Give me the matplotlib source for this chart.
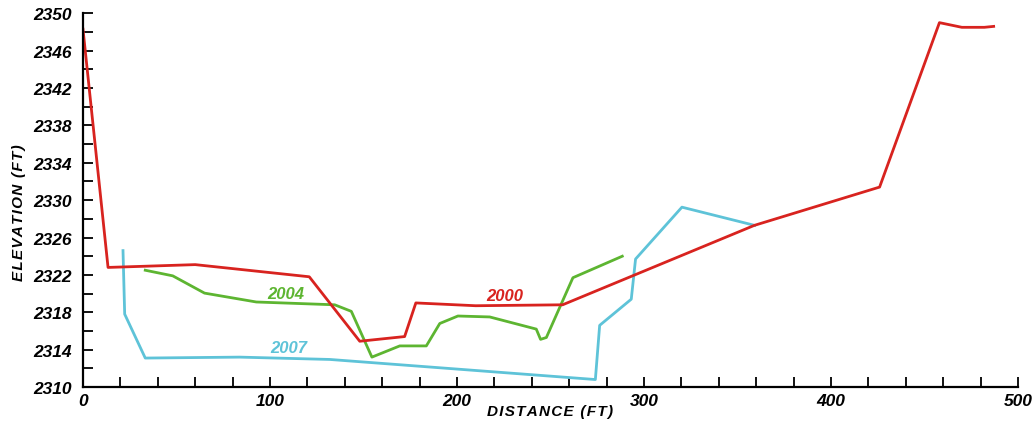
import numpy as np
import matplotlib
matplotlib.use('Agg')
import matplotlib.pyplot as plt

# cross-section survey data (distance ft, elevation ft)
dist_2000 = [0, 13.4, 60, 121, 148, 172, 178, 210, 256.5, 359, 426, 458, 470, 482, 487]
elev_2000 = [2348.3, 2322.8, 2323.1, 2321.8, 2314.9, 2315.4, 2319.0, 2318.7, 2318.8,
             2327.3, 2331.4, 2349.0, 2348.5, 2348.5, 2348.6]

dist_2004 = [33.3, 48, 65, 92.7, 134.6, 143.5, 154.5, 169.4, 183.6, 190.8, 200.5,
             217.5, 242.4, 244.7, 247.8, 262, 288.4]
elev_2004 = [2322.5, 2321.9, 2320.05, 2319.1, 2318.8, 2318.1, 2313.2, 2314.4, 2314.4,
             2316.8, 2317.6, 2317.5, 2316.2, 2315.1, 2315.3, 2321.7, 2324.0]

dist_2007 = [21.4, 22.3, 33.3, 83.8, 132, 274, 276.3, 293.2, 295.5, 320.3, 359.2]
elev_2007 = [2324.6, 2317.8, 2313.1, 2313.2, 2312.95, 2310.8, 2316.6, 2319.4, 2323.7,
             2329.25, 2327.3]

red = '#d8231f'
green = '#5db531'
cyan = '#5ec3d8'

plt.rcParams['font.family'] = ['Liberation Sans', 'DejaVu Sans']
plt.rcParams['font.weight'] = 'bold'
plt.rcParams['font.style'] = 'italic'
fnt = dict(weight='bold', style='italic')

def spaced(s):
    # slight letter spacing, like the original plot labels
    return '\u200a'.join(s)

fig = plt.figure(figsize=(10.36, 4.27), dpi=100)
ax = fig.add_axes([0.0801, 0.0913, 0.9025, 0.8752])

ax.plot(dist_2007, elev_2007, color=cyan, lw=2.0)
ax.plot(dist_2004, elev_2004, color=green, lw=2.0)
ax.plot(dist_2000, elev_2000, color=red, lw=2.0)

ax.text(225.5, 2319.8, '2000', color=red, fontsize=12, ha='center', va='center', **fnt)
ax.text(108.2, 2320.05, '2004', color=green, fontsize=12, ha='center', va='center', **fnt)
ax.text(110, 2314.2, '2007', color=cyan, fontsize=12, ha='center', va='center', **fnt)

ax.set_xlim(0, 500)
ax.set_ylim(2310, 2350)
ax.set_xticks(np.arange(0, 501, 100))
ax.set_xticks(np.arange(0, 501, 20), minor=True)
ax.set_yticks(np.arange(2310, 2351, 4))
ax.set_yticks(np.arange(2310, 2351, 2), minor=True)

for side in ['top', 'right']:
    ax.spines[side].set_visible(False)
for side in ['left', 'bottom']:
    ax.spines[side].set_linewidth(1.6)

ax.tick_params(which='both', direction='in', length=7, width=1.3, color='black',
               labelsize=12.5)
ax.tick_params(axis='x', which='major', pad=4)
ax.tick_params(axis='y', which='major', pad=8)

ax.set_xlabel(spaced('DISTANCE (FT)'), fontsize=11, **fnt)
ax.set_ylabel(spaced('ELEVATION (FT)'), fontsize=11, **fnt)
ax.xaxis.set_label_coords(0.5, -0.045)
ax.yaxis.set_label_coords(-0.061, 0.47)

fig.savefig('out.png', dpi=100)
